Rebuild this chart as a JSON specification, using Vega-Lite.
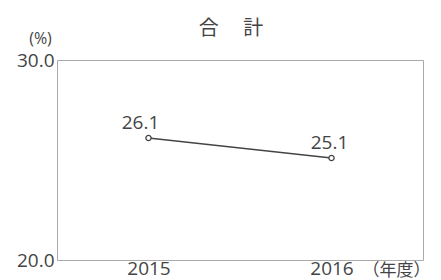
{
  "$schema": "https://vega.github.io/schema/vega-lite/v6.json",
  "autosize": "none",
  "width": 366,
  "height": 200,
  "padding": {"left": 57, "top": 60, "right": 18, "bottom": 20},
  "background": "white",
  "title": {
    "text": "合　 計",
    "font": "Noto Sans CJK JP",
    "fontSize": 20,
    "fontWeight": "normal",
    "color": "#444444",
    "anchor": "middle",
    "dx": -9,
    "offset": -9
  },
  "config": {
    "view": {"stroke": "#aaaaaa", "strokeWidth": 1},
    "font": "Open Sans"
  },
  "data": {
    "values": [
      {"year": "2015", "value": 26.1},
      {"year": "2016", "value": 25.1}
    ]
  },
  "encoding": {
    "x": {
      "field": "year",
      "type": "ordinal",
      "scale": {"type": "point", "padding": 0.5},
      "axis": {
        "title": "（年度）",
        "titleFont": "Noto Sans CJK JP",
        "titleFontSize": 17,
        "titleFontWeight": "normal",
        "titleColor": "#444444",
        "titleAngle": 0,
        "titleX": 339,
        "titleY": 2,
        "titleAlign": "center",
        "titleBaseline": "top",
        "labelAngle": 0,
        "labelFont": "Open Sans",
        "labelFontSize": 19,
        "labelColor": "#444444",
        "labelPadding": -1,
        "labelBaseline": "top",
        "ticks": false,
        "domain": false,
        "grid": false
      }
    },
    "y": {
      "field": "value",
      "type": "quantitative",
      "scale": {"domain": [20, 30], "nice": false, "zero": false},
      "axis": {
        "values": [20, 30],
        "format": ".1f",
        "title": "(%)",
        "titleFont": "Open Sans",
        "titleFontSize": 16,
        "titleFontWeight": "normal",
        "titleColor": "#444444",
        "titleAngle": 0,
        "titleX": -17,
        "titleY": -14,
        "titleAlign": "center",
        "titleBaseline": "bottom",
        "labelFont": "Open Sans",
        "labelFontSize": 19,
        "labelColor": "#444444",
        "labelPadding": 3,
        "labelBaseline": "middle",
        "labelFlush": false,
        "ticks": false,
        "domain": false,
        "grid": false
      }
    }
  },
  "layer": [
    {
      "mark": {"type": "line", "color": "#444444", "strokeWidth": 1.3}
    },
    {
      "mark": {"type": "point", "filled": true, "fill": "white", "stroke": "#444444", "strokeWidth": 1.3, "size": 28, "opacity": 1}
    },
    {
      "transform": [{"filter": "datum.year == '2015'"}],
      "mark": {"type": "text", "font": "Open Sans", "fontSize": 19, "color": "#444444", "dx": -8, "dy": -5, "baseline": "bottom"},
      "encoding": {"text": {"field": "value", "type": "quantitative", "format": ".1f"}}
    },
    {
      "transform": [{"filter": "datum.year == '2016'"}],
      "mark": {"type": "text", "font": "Open Sans", "fontSize": 19, "color": "#444444", "dx": -2, "dy": -5, "baseline": "bottom"},
      "encoding": {"text": {"field": "value", "type": "quantitative", "format": ".1f"}}
    }
  ]
}
